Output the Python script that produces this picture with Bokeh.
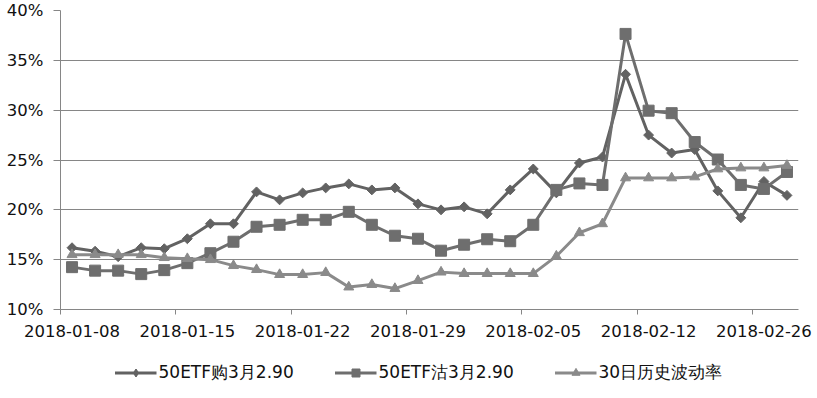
from bokeh.plotting import figure
from bokeh.layouts import column
from bokeh.models import FixedTicker, Legend, LegendItem, Range1d, ColumnDataSource
from bokeh.embed import file_html
from bokeh.resources import INLINE
import numpy as np

dates = ["2018-01-08", "2018-01-09", "2018-01-10", "2018-01-11", "2018-01-12",
         "2018-01-15", "2018-01-16", "2018-01-17", "2018-01-18", "2018-01-19",
         "2018-01-22", "2018-01-23", "2018-01-24", "2018-01-25", "2018-01-26",
         "2018-01-29", "2018-01-30", "2018-01-31", "2018-02-01", "2018-02-02",
         "2018-02-05", "2018-02-06", "2018-02-07", "2018-02-08", "2018-02-09",
         "2018-02-12", "2018-02-13", "2018-02-14", "2018-02-22", "2018-02-23",
         "2018-02-26", "2018-02-27"]

call_vol = [16.2, 15.85, 15.3, 16.2, 16.1, 17.1, 18.6, 18.6, 21.8, 21.0,
            21.7, 22.2, 22.6, 22.0, 22.2, 20.6, 20.0, 20.3, 19.6, 22.0,
            24.1, 21.7, 24.7, 25.3, 33.6, 27.5, 25.7, 26.05, 21.9, 19.2,
            22.85, 21.45]
put_vol = [14.25, 13.9, 13.9, 13.55, 13.95, 14.65, 15.65, 16.8, 18.3, 18.5,
           19.0, 19.0, 19.8, 18.5, 17.4, 17.1, 15.9, 16.5, 17.05, 16.85,
           18.5, 22.0, 22.65, 22.5, 37.65, 29.95, 29.7, 26.8, 25.05, 22.5,
           22.1, 23.8]
hist_vol = [15.5, 15.5, 15.5, 15.5, 15.2, 15.1, 15.0, 14.4, 14.0, 13.5,
            13.5, 13.7, 12.25, 12.5, 12.1, 12.9, 13.75, 13.6, 13.6, 13.6,
            13.6, 15.35, 17.7, 18.6, 23.2, 23.2, 23.2, 23.3, 24.1, 24.2,
            24.2, 24.45]

series_names = ["50ETF购3月2.90", "50ETF沽3月2.90", "30日历史波动率"]

y_ticks = [10, 15, 20, 25, 30, 35, 40]
y_tick_labels = ["10%", "15%", "20%", "25%", "30%", "35%", "40%"]
label_idx = [0, 5, 10, 15, 20, 25, 30]

idx = list(range(len(dates)))
src = ColumnDataSource(dict(x=idx, call=call_vol, put=put_vol, hv=hist_vol))

FONT = "DejaVu Sans"
GRID = "#868686"
TEXT = "#111111"
c1, c2, c3 = "#626262", "#6e6e6e", "#8a8a8a"

p = figure(width=817, height=349, output_backend="svg", toolbar_location=None,
           x_range=Range1d(-0.5, len(dates) - 0.5), y_range=Range1d(10, 40),
           min_border_left=60, min_border_top=10, min_border_right=19,
           min_border_bottom=40)
p.outline_line_color = None

# x axis: labels at category centres, tick marks at category boundaries
p.xaxis.ticker = FixedTicker(ticks=label_idx, minor_ticks=[i - 0.5 for i in label_idx])
p.xaxis.major_label_overrides = {i: dates[i] for i in label_idx}
p.xaxis.major_tick_line_color = None
p.xaxis.major_tick_out = 5
p.xaxis.major_tick_in = 0
p.xaxis.minor_tick_line_color = GRID
p.xaxis.minor_tick_out = 5
p.xaxis.minor_tick_in = 0
p.xaxis.axis_line_color = GRID
p.xaxis.major_label_standoff = 10
p.xaxis.major_label_text_font = FONT
p.xaxis.major_label_text_font_size = "16.5px"
p.xaxis.major_label_text_color = TEXT
p.xgrid.visible = False

p.yaxis.ticker = FixedTicker(ticks=y_ticks)
p.yaxis.major_label_overrides = dict(zip(y_ticks, y_tick_labels))
p.yaxis.major_tick_out = 7
p.yaxis.major_tick_in = 0
p.yaxis.major_tick_line_color = GRID
p.yaxis.minor_tick_line_color = None
p.yaxis.axis_line_color = GRID
p.yaxis.major_label_standoff = 10
p.yaxis.major_label_text_font = FONT
p.yaxis.major_label_text_font_size = "16.5px"
p.yaxis.major_label_text_color = TEXT
p.ygrid.grid_line_color = GRID
p.ygrid.grid_line_width = 1

p.line("x", "call", source=src, line_color=c1, line_width=3)
p.scatter("x", "call", source=src, marker="square", angle=np.pi / 4,
          size=7, fill_color=c1, line_color=c1)
p.line("x", "put", source=src, line_color=c2, line_width=3)
p.scatter("x", "put", source=src, marker="square", size=11,
          fill_color=c2, line_color=c2)
p.line("x", "hv", source=src, line_color=c3, line_width=3)
p.scatter("x", "hv", source=src, marker="triangle", size=10,
          fill_color=c3, line_color=c3)

# legend strip below the chart (same data, drawn out of view; only legend shows)
lg = figure(width=817, height=49, output_backend="svg", toolbar_location=None,
            x_range=Range1d(-100, -99), y_range=Range1d(-100, -99),
            min_border_left=38, min_border_right=0, min_border_top=0,
            min_border_bottom=3)
lg.axis.visible = False
lg.grid.visible = False
lg.outline_line_color = None

k1 = lg.line("x", "call", source=src, line_color=c1, line_width=3)
j1 = lg.scatter("x", "call", source=src, marker="diamond", size=10,
                fill_color=c1, line_color=c1)
k2 = lg.line("x", "put", source=src, line_color=c2, line_width=3)
j2 = lg.scatter("x", "put", source=src, marker="square", size=8,
                fill_color=c2, line_color=c2)
k3 = lg.line("x", "hv", source=src, line_color=c3, line_width=3)
j3 = lg.scatter("x", "hv", source=src, marker="triangle", size=8,
                fill_color=c3, line_color=c3)

legend = Legend(items=[LegendItem(label=series_names[0], renderers=[k1, j1]),
                       LegendItem(label=series_names[1], renderers=[k2, j2]),
                       LegendItem(label=series_names[2], renderers=[k3, j3])],
                orientation="horizontal", location="center",
                border_line_color=None, background_fill_alpha=0,
                glyph_width=42, glyph_height=20, label_standoff=2, spacing=31,
                label_width=145, padding=0, margin=0,
                label_text_font=FONT, label_text_font_size="17px",
                label_text_color=TEXT)
lg.add_layout(legend)

layout = column(p, lg, spacing=0)
open("out.html", "w").write(file_html(layout, INLINE))
